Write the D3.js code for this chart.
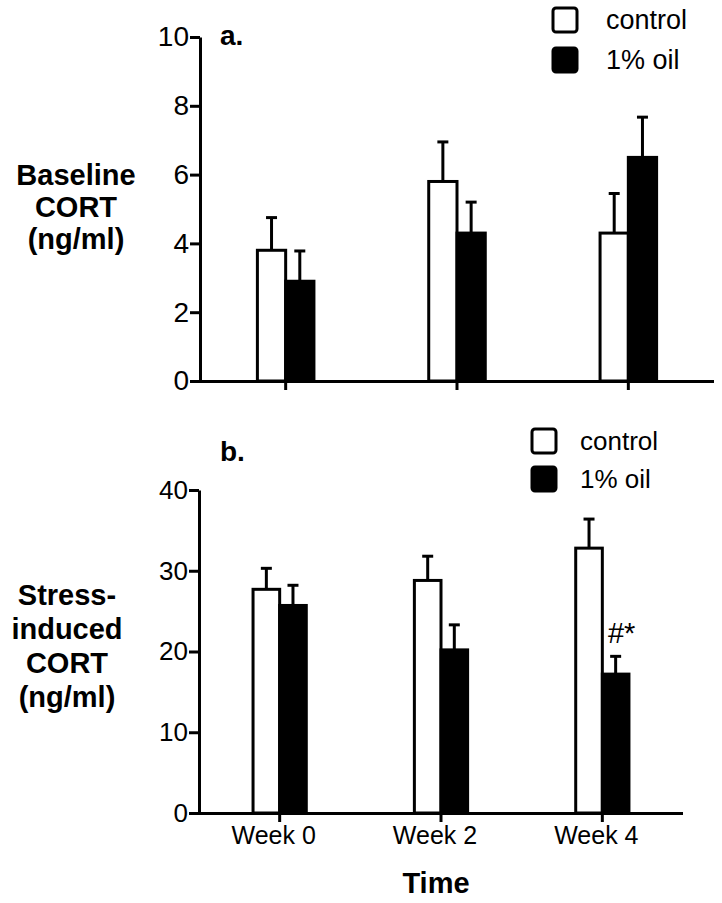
<!DOCTYPE html>
<html>
<head>
<meta charset="utf-8">
<script src="https://cdn.jsdelivr.net/npm/d3@7"></script>
<style>
  body { margin: 0; background: #fff; }
  text { font-family: "Liberation Sans", Arial, sans-serif; fill: #000; }
  .ylab, .panel-tag, .xtitle { font-weight: bold; }
</style>
</head>
<body>
<div id="chart"></div>
<script>
// Data (means and upper SEM)
const weeks = ["Week 0", "Week 2", "Week 4"];
const seriesNames = ["control", "1% oil"];

const baselineControl = [3.8, 5.8, 4.3];
const baselineControlErr = [0.95, 1.15, 1.15];
const baselineOil = [2.9, 4.3, 6.5];
const baselineOilErr = [0.88, 0.9, 1.17];
const baselineTicks = [0, 2, 4, 6, 8, 10];

const stressControl = [27.7, 28.8, 32.8];
const stressControlErr = [2.6, 3.0, 3.6];
const stressOil = [25.7, 20.2, 17.2];
const stressOilErr = [2.5, 3.1, 2.2];
const stressTicks = [0, 10, 20, 30, 40];

const width = 722, height = 903;

const svg = d3.select("#chart")
  .append("svg")
    .attr("width", width)
    .attr("height", height);

// one panel = one grouped bar chart
function drawPanel(p) {
  const x0 = d3.scaleBand()
      .domain(weeks)
      .range([p.left, p.right])
      .padding(0);

  const half = x0.bandwidth() * 0.165;
  const x1 = d3.scaleBand()
      .domain(seriesNames)
      .range([-half, half])
      .padding(0);

  const y = d3.scaleLinear()
      .domain([0, d3.max(p.ticks)])
      .range([p.bottom, p.top]);

  const rows = [];
  weeks.forEach((w, i) => {
    rows.push({ week: w, name: seriesNames[0], value: p.control[i], err: p.controlErr[i] });
    rows.push({ week: w, name: seriesNames[1], value: p.oil[i], err: p.oilErr[i] });
  });

  const cx = d => x0(d.week) + x0.bandwidth() / 2 + x1(d.name) + x1.bandwidth() / 2;

  const g = svg.append("g");

  // error bars (upper only) drawn first so bar outline sits on top
  const eb = g.selectAll(".err")
    .data(rows)
    .join("g")
      .attr("class", "err");
  eb.append("line")
      .attr("x1", cx)
      .attr("x2", cx)
      .attr("y1", d => y(d.value))
      .attr("y2", d => y(d.value + d.err))
      .attr("stroke", "#000")
      .attr("stroke-width", 3);
  eb.append("line")
      .attr("x1", d => cx(d) - 5.5)
      .attr("x2", d => cx(d) + 5.5)
      .attr("y1", d => y(d.value + d.err))
      .attr("y2", d => y(d.value + d.err))
      .attr("stroke", "#000")
      .attr("stroke-width", 3);

  g.selectAll(".bar")
    .data(rows)
    .join("rect")
      .attr("class", "bar")
      .attr("x", d => x0(d.week) + x0.bandwidth() / 2 + x1(d.name))
      .attr("y", d => y(d.value))
      .attr("width", x1.bandwidth())
      .attr("height", d => y(0) - y(d.value))
      .attr("fill", d => d.name === seriesNames[0] ? "#fff" : "#000")
      .attr("stroke", "#000")
      .attr("stroke-width", 3);

  // y axis
  const yAxis = g.append("g")
      .attr("transform", `translate(${p.left},0)`)
      .call(d3.axisLeft(y).tickValues(p.ticks).tickSize(10).tickSizeOuter(0).tickPadding(1));
  yAxis.selectAll("path, line").attr("stroke-width", 3);
  yAxis.selectAll("text")
      .style("font-size", p.tickFont + "px")
      .style("font-family", "'Liberation Sans', Arial, sans-serif");

  // x axis
  const xAxis = g.append("g")
      .attr("transform", `translate(0,${p.bottom})`)
      .call(d3.axisBottom(x0).tickSize(9).tickSizeOuter(0).tickPadding(4)
        .tickFormat(p.showWeeks ? (d => d) : ""));
  xAxis.selectAll("path, line").attr("stroke-width", 3);
  xAxis.select(".domain").attr("d", `M${p.left - 10},0.5H${p.right}`);
  xAxis.selectAll("text")
      .style("font-size", "25px")
      .style("font-family", "'Liberation Sans', Arial, sans-serif")
      .attr("dx", "-6");

  // panel tag
  svg.append("text")
      .attr("class", "panel-tag")
      .attr("x", 220)
      .attr("y", p.tagY)
      .style("font-size", "28px")
      .text(p.tag);

  // y label
  const yl = svg.append("text")
      .attr("class", "ylab")
      .attr("text-anchor", "middle")
      .style("font-size", "29px");
  p.ylabel.forEach((line, i) => {
    yl.append("tspan")
      .attr("x", p.ylabelX)
      .attr("y", p.ylabelY + i * p.ylabelGap)
      .text(line);
  });

  // legend
  const lg = svg.append("g")
      .attr("transform", `translate(${p.legX},${p.legY})`);
  seriesNames.forEach((n, i) => {
    lg.append("rect")
      .attr("x", 0)
      .attr("y", i * p.legGap - 12)
      .attr("width", 24)
      .attr("height", 24)
      .attr("rx", 3)
      .attr("fill", i === 0 ? "#fff" : "#000")
      .attr("stroke", "#000")
      .attr("stroke-width", 3);
    lg.append("text")
      .attr("x", p.legTextDx)
      .attr("y", i * p.legGap + 9)
      .style("font-size", p.legFont + "px")
      .text(n);
  });

  return { x0, x1, y };
}

drawPanel({
  left: 200, right: 714, top: 37, bottom: 381,
  control: baselineControl, controlErr: baselineControlErr,
  oil: baselineOil, oilErr: baselineOilErr,
  ticks: baselineTicks, tickFont: 28, showWeeks: false,
  tag: "a.", tagY: 45,
  ylabel: ["Baseline", "CORT", "(ng/ml)"], ylabelX: 76, ylabelY: 185, ylabelGap: 32,
  legX: 553, legY: 20, legGap: 40, legTextDx: 53, legFont: 27
});

const b = drawPanel({
  left: 199, right: 683, top: 490, bottom: 813,
  control: stressControl, controlErr: stressControlErr,
  oil: stressOil, oilErr: stressOilErr,
  ticks: stressTicks, tickFont: 26, showWeeks: true,
  tag: "b.", tagY: 461,
  ylabel: ["Stress-", "induced", "CORT", "(ng/ml)"], ylabelX: 67, ylabelY: 605, ylabelGap: 34,
  legX: 532, legY: 441, legGap: 38, legTextDx: 48, legFont: 26
});

// significance mark over week 4 oil bar
const wk4 = weeks[2];
svg.append("text")
    .attr("x", b.x0(wk4) + b.x0.bandwidth() / 2 + b.x1(seriesNames[1]) + b.x1.bandwidth() / 2 + 6)
    .attr("y", b.y(stressOil[2] + stressOilErr[2]) - 13)
    .attr("text-anchor", "middle")
    .style("font-size", "29px")
    .text("#*");

// x title
svg.append("text")
    .attr("class", "xtitle")
    .attr("x", 436)
    .attr("y", 893)
    .attr("text-anchor", "middle")
    .style("font-size", "29px")
    .text("Time");
</script>
</body>
</html>
